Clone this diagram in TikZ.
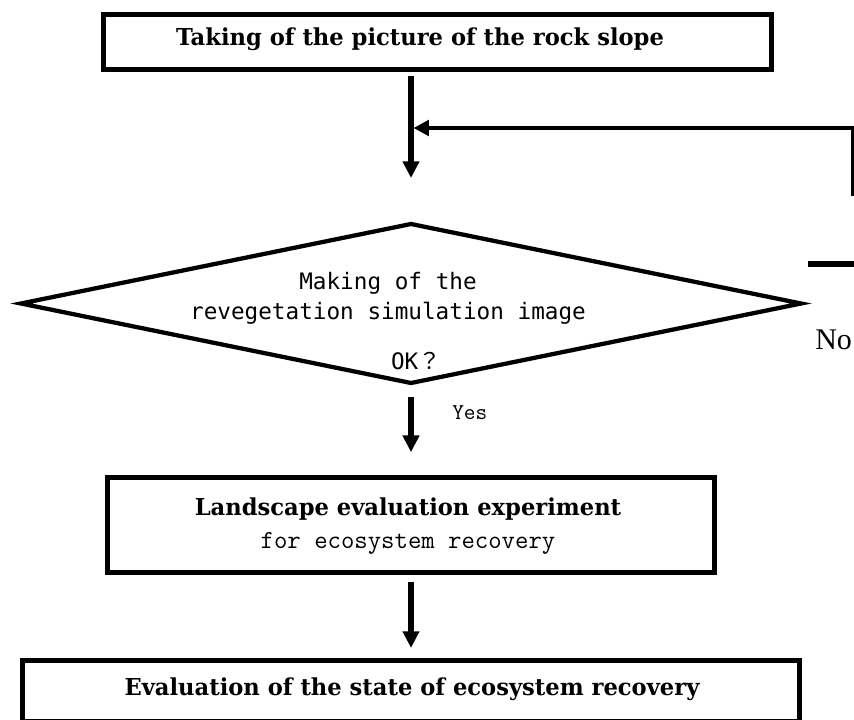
\documentclass[tikz,border=0pt]{standalone}
\usepackage{fontspec}
\usetikzlibrary{shapes.geometric,arrows.meta}
\newfontfamily\ttlfont{DejaVu Serif}[FakeStretch=0.97]
\newfontfamily\gothfont{DejaVu Sans Mono}
\newfontfamily\cjkfont{Noto Sans CJK JP}
\newfontfamily\nofont{Liberation Serif}
\begin{document}
\begin{tikzpicture}[x=0.75pt,y=-0.75pt,
  box/.style={draw, line width=3.75pt, inner sep=0pt, outer sep=0pt},
  decision/.style={draw, diamond, line width=3.2pt, inner sep=0pt, outer sep=0pt},
  flow/.style={line width=4pt, -{Triangle[length=12.5pt,width=12pt]}},
  ttl/.style={anchor=base, inner sep=0pt, font=\ttlfont\bfseries\fontsize{17.5pt}{21pt}\selectfont},
  goth/.style={anchor=base, inner sep=0pt, font=\gothfont\fontsize{17pt}{20pt}\selectfont},
  mincho/.style={anchor=base, inner sep=0pt, font=\ttfamily\fontsize{19.5pt}{23pt}\selectfont},
  answer/.style={anchor=base west, inner sep=0pt}]
\useasboundingbox (0,0) rectangle (854,720);

% boxes and decision
\node[box, minimum width=501pt, minimum height=41.25pt] (topbox) at (437,42.5) {};
\node[decision, minimum width=585pt, minimum height=119.25pt] (dia) at (411,303.5) {};
\node[box, minimum width=455.25pt, minimum height=71.25pt] (midbox) at (411,525) {};
\node[box, minimum width=582.75pt, minimum height=45.4pt] (botbox) at (411,690.75) {};

% texts
\node[ttl] (t1) at (420,46) {Taking of the picture of the rock slope};
\node[goth] (d1) at (388,290) {Making of the};
\node[goth] (d2) at (388,320) {revegetation simulation image};
\node[goth] (d3) at (416,370) {OK{\cjkfont ？}};
\node[ttl] (m1) at (408,515) {Landscape evaluation experiment};
\node[mincho] (m2) at (408,548) {for ecosystem recovery};
\node[ttl] (b1) at (412,695) {Evaluation of the state of ecosystem recovery};
\node[answer, font=\ttfamily\fontsize{17pt}{20pt}\selectfont] (yes) at (452,420) {Yes};
\node[answer, font=\nofont\fontsize{22.5pt}{26pt}\selectfont] (no) at (815,350) {No};

% connectors
\coordinate (a1) at (411,178);
\draw[flow, shorten <=4.5pt] (topbox.south -| a1) -- (a1);

\coordinate (fbB) at (852.5,196);
\coordinate (fbC) at (852.5,128);
\coordinate (fbJ) at (413.5,128);
\draw[line width=1.9pt] (fbB) -- (fbC);
\draw[line width=3.4pt, -{Triangle[length=11.5pt,width=11.5pt]}] ([xshift=0.9pt]fbC) -- (fbJ);

\coordinate (nA) at (808,264);
\coordinate (nB) at (858,264);
\draw[line width=4.3pt] (nA) -- (nB);

\draw[flow, shorten <=10.5pt, shorten >=19pt] (dia.south) -- (midbox.north);
\draw[flow, shorten <=7pt, shorten >=9.4pt] (midbox.south) -- (botbox.north);
\end{tikzpicture}
\end{document}
